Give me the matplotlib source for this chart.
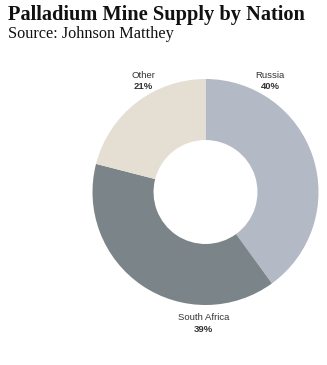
import matplotlib
matplotlib.use("Agg")
import matplotlib.pyplot as plt

nations = ["Russia", "South Africa", "Other"]
shares = [40, 39, 21]
colors = ["#b3bac6", "#7b8488", "#e5dfd3"]

fig = plt.figure(figsize=(3.27, 3.65), dpi=100)
fig.patch.set_facecolor("white")

fig.text(8 / 327, 1 - 20 / 365, "Palladium Mine Supply by Nation",
         family="Liberation Serif", weight="bold", fontsize=14.7, color="#111111",
         va="baseline", ha="left")
fig.text(8 / 327, 1 - 37.5 / 365, "Source: Johnson Matthey",
         family="Liberation Serif", fontsize=11.7, color="#111111",
         va="baseline", ha="left")

ax = fig.add_axes([(205.5 - 113) / 327, (365 - 192 - 113) / 365, 226 / 327, 226 / 365])
ax.pie(shares, colors=colors, startangle=90, counterclock=False, radius=1.0,
       wedgeprops=dict(width=0.54, edgecolor="none"))
ax.set_xlim(-1, 1)
ax.set_ylim(-1, 1)
ax.set_aspect("equal")
ax.axis("off")

# label positions (data units of the pie axes)
label_pos = {"Russia": (0.57, 1.035), "South Africa": (-0.02, -1.115), "Other": (-0.553, 1.035)}
for name, val in zip(nations, shares):
    x, y = label_pos[name]
    ax.text(x, y, name, ha="center", va="center", fontsize=6.8,
            family="Liberation Sans", color="#333333", clip_on=False)
    ax.text(x, y - 0.1, f"{val}%", ha="center", va="center", fontsize=6.8,
            family="Liberation Sans", weight="bold", color="#333333", clip_on=False)

fig.savefig("out.png", dpi=100, facecolor="white")
